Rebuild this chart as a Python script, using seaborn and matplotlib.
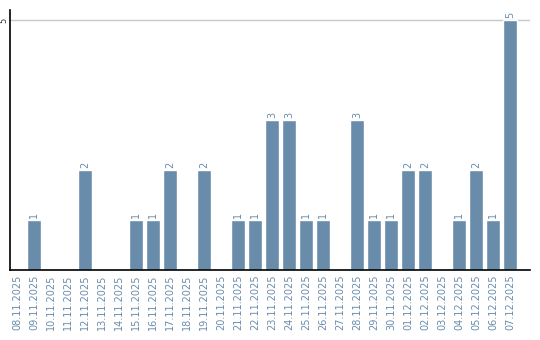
import matplotlib
matplotlib.use("Agg")
import matplotlib.pyplot as plt
import seaborn as sns
import pandas as pd

dates = ["08.11.2025", "09.11.2025", "10.11.2025", "11.11.2025", "12.11.2025",
         "13.11.2025", "14.11.2025", "15.11.2025", "16.11.2025", "17.11.2025",
         "18.11.2025", "19.11.2025", "20.11.2025", "21.11.2025", "22.11.2025",
         "23.11.2025", "24.11.2025", "25.11.2025", "26.11.2025", "27.11.2025",
         "28.11.2025", "29.11.2025", "30.11.2025", "01.12.2025", "02.12.2025",
         "03.12.2025", "04.12.2025", "05.12.2025", "06.12.2025", "07.12.2025"]
counts = [0, 1, 0, 0, 2, 0, 0, 1, 1, 2, 0, 2, 0, 1, 1, 3, 3, 1, 1, 0,
          3, 1, 1, 2, 2, 0, 1, 2, 1, 5]

sns.set_style("white")
plt.rcParams['font.family'] = ['DejaVu Sans']

df = pd.DataFrame({"date": dates, "count": counts})
color = "#6a8cab"
text_color = "#6a8cab"

fig = plt.figure(figsize=(5.4, 3.4), dpi=100)
ax = fig.add_axes([10/540, 1-270/340, 520/540, 260/340])
sns.barplot(data=df, x="date", y="count", color=color, width=0.82,
            saturation=1, ax=ax)

for i, v in enumerate(counts):
    if v > 0:
        ax.text(i, v + 0.04, str(v), rotation=90, ha="center", va="bottom",
                fontsize=7, color=text_color)

ax.set_ylim(0, 5.2)
ax.set_xlim(-0.41, 30.18)
ax.set_yticks([5])
ax.set_yticklabels(["5"], rotation=90, va="center", fontsize=6, color="#333333")
ax.yaxis.grid(True, color="#c8c8c8", linewidth=1)
ax.set_axisbelow(True)
ax.set_xticks(range(len(dates)))
ax.set_xticklabels(dates, rotation=90, fontsize=7, color=text_color)
ax.tick_params(axis="x", length=0, pad=3)
ax.tick_params(axis="y", length=0, pad=1.5)
ax.set_xlabel("")
ax.set_ylabel("")
for s in ["top", "right"]:
    ax.spines[s].set_visible(False)
for s in ["left", "bottom"]:
    ax.spines[s].set_color("black")
    ax.spines[s].set_linewidth(1.2)

fig.savefig("out.png", dpi=100)
